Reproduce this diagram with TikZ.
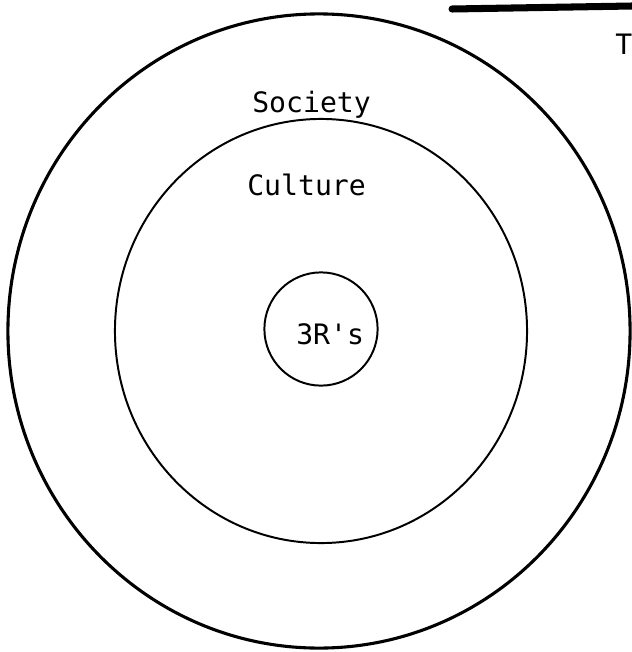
\documentclass[tikz,border=0pt]{standalone}
\usepackage{fontspec}
\setmonofont{DejaVu Sans Mono}
\usetikzlibrary{shapes.geometric}

\begin{document}
\begin{tikzpicture}[
        x=0.025cm, y=-0.025cm,
        ring/.style={ellipse, draw, inner sep=0pt, line width=1.4pt},
        lbl/.style={font=\fontsize{20}{24}\selectfont\ttfamily, inner sep=0pt, anchor=base west},
    ]
    % page frame, same proportions as the scan
    \useasboundingbox (0,0) rectangle (632,652);

    % the three rings
    \node[ring, line width=2.2pt, minimum width=15.55cm, minimum height=15.85cm] (society) at (319,331) {};
    \node[ring, minimum width=10.3cm, minimum height=10.6cm] (culture) at (321,331) {};
    \node[ring, minimum width=2.83cm, minimum height=2.83cm] (core) at (321,329) {};

    % labels
    \node[lbl] (societytxt) at (252,112) {Society};
    \node[lbl] (culturetxt) at (247,195) {Culture};
    \node[lbl] (coretxt) at (296,344) {3R's};

    % scrap of the page above (bar and letter cut off at the edge)
    \coordinate (barL) at (452,9);
    \coordinate (barR) at (632,6);
    \draw[line width=5pt, line cap=round] (barL) -- (barR);
    \node[lbl] (edgetxt) at (615,54) {T};
\end{tikzpicture}
\end{document}
